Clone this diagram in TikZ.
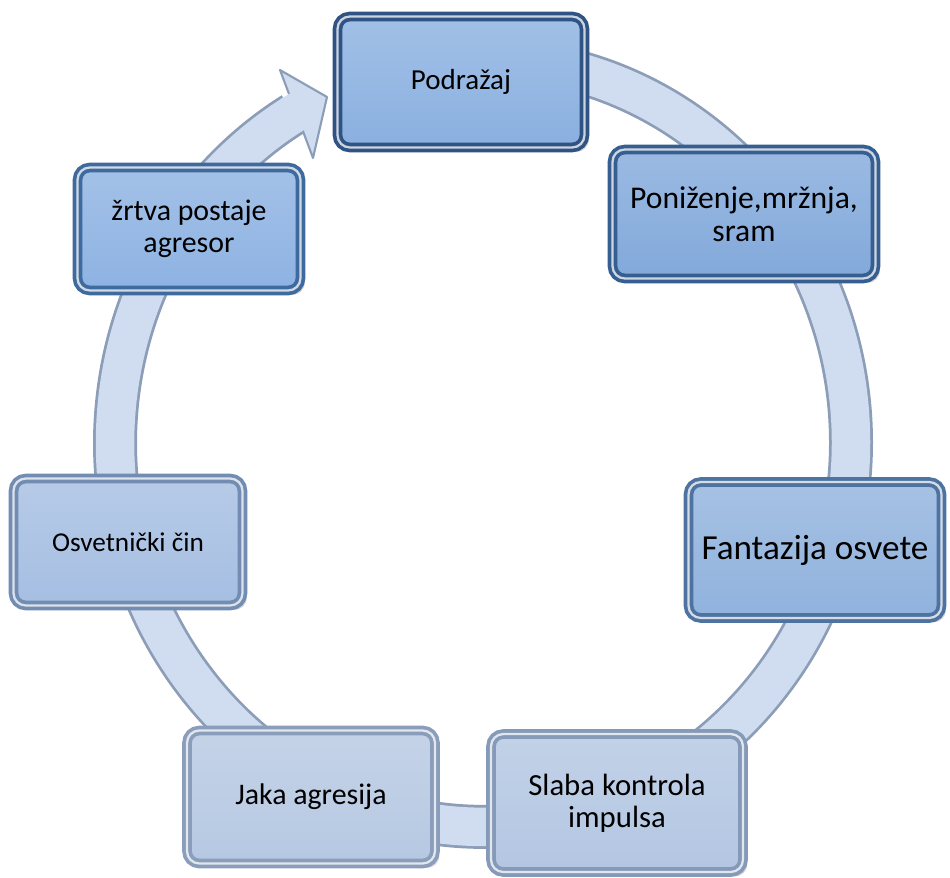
\documentclass[tikz,border=0pt]{standalone}
\usepackage{fontspec}
\setmainfont{Carlito}
\usetikzlibrary{shadows}
% Colores de las etapas
\definecolor{prstenfill}{HTML}{D0DCF0}
\definecolor{prstenline}{HTML}{8C9DB8}
\definecolor{podrazajfill}{HTML}{8AB0E0}
\definecolor{podrazajline}{HTML}{2F5383}
\definecolor{ponizenjefill}{HTML}{82A9DB}
\definecolor{ponizenjeline}{HTML}{365E90}
\definecolor{fantazijafill}{HTML}{90B2DD}
\definecolor{fantazijaline}{HTML}{4E73A1}
\definecolor{slabafill}{HTML}{B3C6E2}
\definecolor{slabaline}{HTML}{8599B8}
\definecolor{jakafill}{HTML}{B6C8E2}
\definecolor{jakaline}{HTML}{8A9DBA}
\definecolor{osvetafill}{HTML}{A5BEE2}
\definecolor{osvetaline}{HTML}{728CB2}
\definecolor{zrtvafill}{HTML}{8DB2E2}
\definecolor{zrtvaline}{HTML}{3F6A9E}
\begin{document}
\begin{tikzpicture}[x=0.02cm,y=0.02cm,
        etapa/.style 2 args={draw=#2, double=#2!25!white, double distance=1.3pt,
            line width=2.1pt, rounded corners=7pt, top color=#1!80!white, bottom color=#1,
            drop shadow={opacity=0.35,shadow xshift=2.5pt,shadow yshift=-2.5pt},
            align=center, inner sep=2pt},
        prstenrub/.style={draw=prstenline, line width=0.88cm},
        prstensred/.style={draw=prstenfill, line width=0.77cm}]
    \useasboundingbox (0,0) rectangle (950,877);
    % Anillo con flecha
    \coordinate (centar) at (483,434);
    \coordinate (prstenstart) at (546.9,812.2);
    \coordinate (glavavan) at (280,807);
    \coordinate (glavavrh) at (327,780);
    \coordinate (glavaunutra) at (313,719);
    \draw[prstenrub] (prstenstart) arc[start angle=80, end angle=-239, x radius=7.36cm, y radius=7.68cm];
    \draw[prstensred] (prstenstart) arc[start angle=80, end angle=-239, x radius=7.36cm, y radius=7.68cm];
    \filldraw[fill=prstenfill, draw=prstenline, line width=1.2pt, line join=round] (glavavan) -- (glavavrh) -- (glavaunutra) -- cycle;
    \draw[prstensred] (centar) ++(118:368 and 384) arc[start angle=118, end angle=121.5, x radius=7.36cm, y radius=7.68cm];
    % Etapas del ciclo
    \node[etapa={podrazajfill}{podrazajline}, minimum width=4.94cm, minimum height=2.62cm,
        font=\fontsize{16.5}{19}\selectfont] (podrazaj) at (461,795) {Podražaj};
    \node[etapa={ponizenjefill}{ponizenjeline}, minimum width=5.26cm, minimum height=2.58cm,
        font=\fontsize{18}{18.5}\selectfont] (ponizenje) at (744,663) {Poniženje,mržnja,\\sram};
    \node[etapa={fantazijafill}{fantazijaline}, minimum width=5.06cm, minimum height=2.72cm,
        font=\fontsize{20}{22}\selectfont] (fantazija) at (815,327) {Fantazija osvete};
    \node[etapa={slabafill}{slabaline}, minimum width=5.04cm, minimum height=2.76cm,
        font=\fontsize{17.5}{18}\selectfont] (slaba) at (617,74) {Slaba kontrola\\impulsa};
    \node[etapa={jakafill}{jakaline}, minimum width=4.96cm, minimum height=2.66cm,
        font=\fontsize{17}{19}\selectfont] (jaka) at (311,80) {Jaka agresija};
    \node[etapa={osvetafill}{osvetaline}, minimum width=4.58cm, minimum height=2.54cm,
        font=\fontsize{15.5}{18}\selectfont] (osveta) at (128,335) {Osvetnički čin};
    \node[etapa={zrtvafill}{zrtvaline}, minimum width=4.46cm, minimum height=2.46cm,
        font=\fontsize{17}{18}\selectfont] (zrtva) at (189,648) {žrtva postaje\\agresor};
\end{tikzpicture}
\end{document}
